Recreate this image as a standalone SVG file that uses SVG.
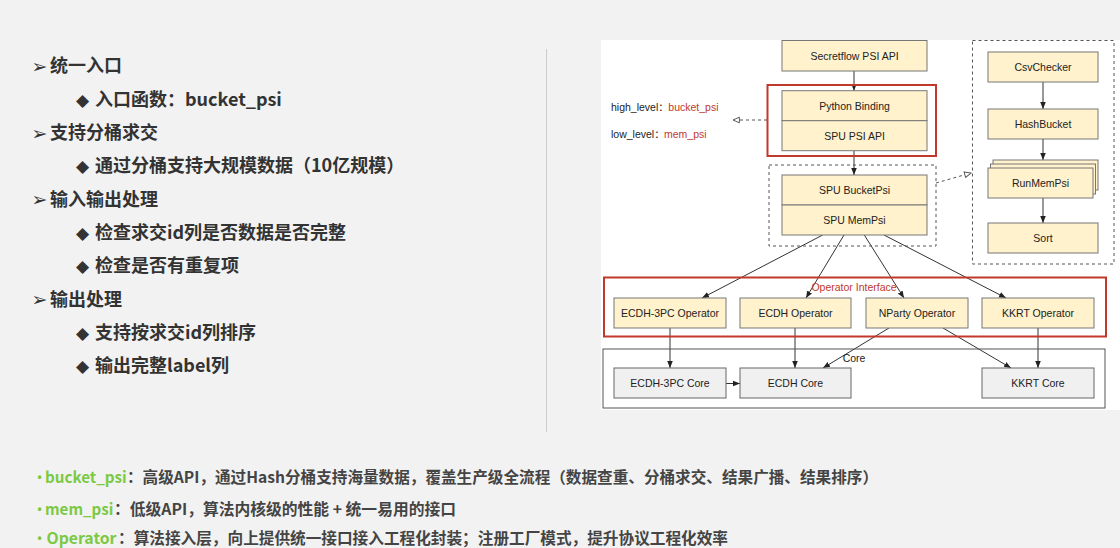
<svg xmlns="http://www.w3.org/2000/svg" width="1120" height="548" viewBox="0 0 1120 548">
<style>
.n{fill:#fff2cc;stroke:#777;stroke-width:1}
.c{fill:#f0f0f0;stroke:#666;stroke-width:1}
.t{font-family:"Liberation Sans",Arial,sans-serif;font-size:10.5px;fill:#222;text-anchor:middle}
.ln{stroke:#333;stroke-width:1;fill:none}
.dl{stroke:#555;stroke-width:1;fill:none;stroke-dasharray:3 3}
.db{fill:none;stroke:#555;stroke-width:1;stroke-dasharray:3 3}
.rb{fill:none;stroke:#c0392b;stroke-width:2}
.lt{font-family:"Noto Sans CJK SC","Noto Sans",sans-serif;font-weight:700;font-size:18px;fill:#333}
.b1{font-family:"DejaVu Sans",sans-serif;font-size:19px;fill:#333}
.b2{font-family:"DejaVu Sans",sans-serif;font-size:17px;fill:#333}
.bt{font-family:"Noto Sans CJK SC","Noto Sans",sans-serif;font-weight:700;font-size:15.5px;fill:#444}
.bg{font-family:"Noto Sans CJK SC","Noto Sans",sans-serif;font-weight:700;font-size:15.5px;fill:#7cc943}
.bd{font-family:"Liberation Sans",Arial,sans-serif;font-weight:700;font-size:12px;fill:#7cc943;text-anchor:middle}
.sl{font-family:"Liberation Sans",Arial,"Noto Sans CJK SC",sans-serif;font-size:10.5px;fill:#222}
.sr{font-family:"Liberation Sans",Arial,sans-serif;font-size:10.5px;fill:#c0392b}
</style>
<defs>
<marker id="a" viewBox="0 0 10 10" refX="10" refY="5" markerWidth="7" markerHeight="7" markerUnits="userSpaceOnUse" orient="auto"><path d="M0,1 L10,5 L0,9 z" fill="#222"/></marker>
<marker id="o" viewBox="0 0 10 10" refX="9" refY="5" markerWidth="8" markerHeight="8" markerUnits="userSpaceOnUse" orient="auto"><path d="M1,1.5 L9,5 L1,8.5 z" fill="#fff" stroke="#555" stroke-width="1.2"/></marker>
</defs>
<rect x="0" y="0" width="1120" height="548" fill="#f2f2f2"/>
<rect x="601" y="40" width="519" height="370" fill="#ffffff"/>
<line x1="546.5" y1="49" x2="546.5" y2="432" stroke="#cccccc" stroke-width="1"/>

<g id="left-text">
<text class="b1" x="31.5" y="73">➢</text><text class="lt" x="50" y="72.3">统一入口</text>
<text class="b2" x="76" y="105.5">◆</text><text class="lt" x="95" y="105.7">入口函数：bucket_psi</text>
<text class="b1" x="31.5" y="139.7">➢</text><text class="lt" x="50" y="139">支持分桶求交</text>
<text class="b2" x="76" y="172.2">◆</text><text class="lt" x="95" y="172.3">通过分桶支持大规模数据（10亿规模）</text>
<text class="b1" x="31.5" y="206.4">➢</text><text class="lt" x="50" y="205.7">输入输出处理</text>
<text class="b2" x="76" y="238.8">◆</text><text class="lt" x="95" y="239">检查求交id列是否数据是否完整</text>
<text class="b2" x="76" y="272.2">◆</text><text class="lt" x="95" y="272.3">检查是否有重复项</text>
<text class="b1" x="31.5" y="306.4">➢</text><text class="lt" x="50" y="305.7">输出处理</text>
<text class="b2" x="76" y="338.8">◆</text><text class="lt" x="95" y="339">支持按求交id列排序</text>
<text class="b2" x="76" y="372.2">◆</text><text class="lt" x="95" y="372.3">输出完整label列</text>
</g>

<g id="bottom-text">
<text class="bd" x="39.5" y="481">•</text>
<text class="bg" x="45" y="483" textLength="81.7" lengthAdjust="spacingAndGlyphs">bucket_psi</text>
<text class="bt" x="127" y="483" textLength="751" lengthAdjust="spacingAndGlyphs">：高级API，通过Hash分桶支持海量数据，覆盖生产级全流程（数据查重、分桶求交、结果广播、结果排序）</text>
<text class="bd" x="39.5" y="513">•</text>
<text class="bg" x="45" y="515" textLength="68.3" lengthAdjust="spacingAndGlyphs">mem_psi</text>
<text class="bt" x="114" y="515" textLength="342" lengthAdjust="spacingAndGlyphs">：低级API，算法内核级的性能 + 统一易用的接口</text>
<text class="bd" x="39.5" y="542">•</text>
<text class="bg" x="46.5" y="544" textLength="70" lengthAdjust="spacingAndGlyphs">Operator</text>
<text class="bt" x="118" y="544" textLength="610" lengthAdjust="spacingAndGlyphs">：算法接入层，向上提供统一接口接入工程化封装；注册工厂模式，提升协议工程化效率</text>
</g>

<g id="connectors">
<line class="ln" x1="854" y1="71" x2="854" y2="90.7" marker-end="url(#a)"/>
<line class="ln" x1="854" y1="150.7" x2="854" y2="175" marker-end="url(#a)"/>
<line class="dl" x1="767" y1="120" x2="733" y2="120" marker-end="url(#o)"/>
<line class="dl" x1="936" y1="183" x2="971" y2="173" marker-end="url(#o)"/>
<line class="ln" x1="1043" y1="82" x2="1043" y2="109" marker-end="url(#a)"/>
<line class="ln" x1="1043" y1="139" x2="1043" y2="160" marker-end="url(#a)"/>
<line class="ln" x1="1043" y1="198" x2="1043" y2="223" marker-end="url(#a)"/>
<line class="ln" x1="822.7" y1="235" x2="702" y2="298" marker-end="url(#a)"/>
<line class="ln" x1="844" y1="235" x2="806" y2="298" marker-end="url(#a)"/>
<line class="ln" x1="864.3" y1="235" x2="904" y2="298" marker-end="url(#a)"/>
<line class="ln" x1="884" y1="235" x2="1006" y2="298" marker-end="url(#a)"/>
<line class="ln" x1="670" y1="328" x2="670" y2="368" marker-end="url(#a)"/>
<line class="ln" x1="795" y1="328" x2="795" y2="368" marker-end="url(#a)"/>
<line class="ln" x1="1038" y1="328" x2="1038" y2="368" marker-end="url(#a)"/>
<line class="ln" x1="889" y1="328" x2="823" y2="368" marker-end="url(#a)"/>
<line class="ln" x1="943" y1="328" x2="1011" y2="368" marker-end="url(#a)"/>
<line class="ln" x1="726" y1="383.5" x2="740" y2="383.5" marker-end="url(#a)"/>
</g>

<g id="secretflow-psi-api">
<rect class="n" x="782" y="40.5" width="145" height="30.5"/>
<text class="t" x="854.5" y="59.5">Secretflow PSI API</text>
</g>

<g id="level-labels">
<text class="sl" x="611" y="110.5">high_level：</text>
<text class="sr" x="668.3" y="110.5">bucket_psi</text>
<text class="sl" x="611" y="138">low_level：</text>
<text class="sr" x="664" y="138">mem_psi</text>
</g>

<g id="python-binding">
<rect class="n" x="782" y="90.7" width="145" height="30"/>
<text class="t" x="854.5" y="109.7">Python Binding</text>
</g>
<g id="spu-psi-api">
<rect class="n" x="782" y="120.7" width="145" height="30"/>
<text class="t" x="854.5" y="139.7">SPU PSI API</text>
</g>
<g id="api-group">
<rect class="rb" x="767.5" y="85" width="168.5" height="71"/>
</g>

<g id="spu-group">
<rect class="db" x="769" y="165" width="167" height="81"/>
</g>
<g id="spu-bucketpsi">
<rect class="n" x="782" y="175" width="145" height="30"/>
<text class="t" x="854.5" y="194">SPU BucketPsi</text>
</g>
<g id="spu-mempsi">
<rect class="n" x="782" y="205" width="145" height="30"/>
<text class="t" x="854.5" y="224">SPU MemPsi</text>
</g>

<g id="bucket-flow">
<rect class="db" x="972.5" y="40.5" width="141.5" height="223.5"/>
</g>
<g id="csvchecker">
<rect class="n" x="988" y="52" width="110" height="30"/>
<text class="t" x="1043" y="71">CsvChecker</text>
</g>
<g id="hashbucket">
<rect class="n" x="988" y="109" width="110" height="30"/>
<text class="t" x="1043" y="128">HashBucket</text>
</g>
<g id="runmempsi">
<rect class="n" x="993" y="160" width="105" height="30"/>
<rect class="n" x="990.5" y="164" width="105" height="30"/>
<rect class="n" x="988" y="168" width="105" height="30"/>
<text class="t" x="1040.5" y="187">RunMemPsi</text>
</g>
<g id="sort">
<rect class="n" x="988" y="223" width="110" height="30"/>
<text class="t" x="1043" y="242">Sort</text>
</g>

<g id="operator-interface">
<rect class="rb" x="604" y="277.5" width="502" height="59"/>
<text class="t" x="854" y="290.5" style="fill:#c0392b">Operator Interface</text>
</g>
<g id="ecdh-3pc-operator">
<rect class="n" x="614" y="298" width="112" height="30"/>
<text class="t" x="670" y="316.7">ECDH-3PC Operator</text>
</g>
<g id="ecdh-operator">
<rect class="n" x="740" y="298" width="111" height="30"/>
<text class="t" x="795.5" y="316.7">ECDH Operator</text>
</g>
<g id="nparty-operator">
<rect class="n" x="866" y="298" width="102" height="30"/>
<text class="t" x="917" y="316.7">NParty Operator</text>
</g>
<g id="kkrt-operator">
<rect class="n" x="982" y="298" width="112" height="30"/>
<text class="t" x="1038" y="316.7">KKRT Operator</text>
</g>

<g id="core">
<rect x="603" y="349" width="502" height="59" fill="none" stroke="#555" stroke-width="1"/>
<text class="t" x="842.7" y="362" style="text-anchor:start">Core</text>
</g>
<g id="ecdh-3pc-core">
<rect class="c" x="614" y="368" width="112" height="30"/>
<text class="t" x="670" y="386.7">ECDH-3PC Core</text>
</g>
<g id="ecdh-core">
<rect class="c" x="740" y="368" width="111" height="30"/>
<text class="t" x="795.5" y="386.7">ECDH Core</text>
</g>
<g id="kkrt-core">
<rect class="c" x="982" y="368" width="112" height="30"/>
<text class="t" x="1038" y="386.7">KKRT Core</text>
</g>
</svg>
